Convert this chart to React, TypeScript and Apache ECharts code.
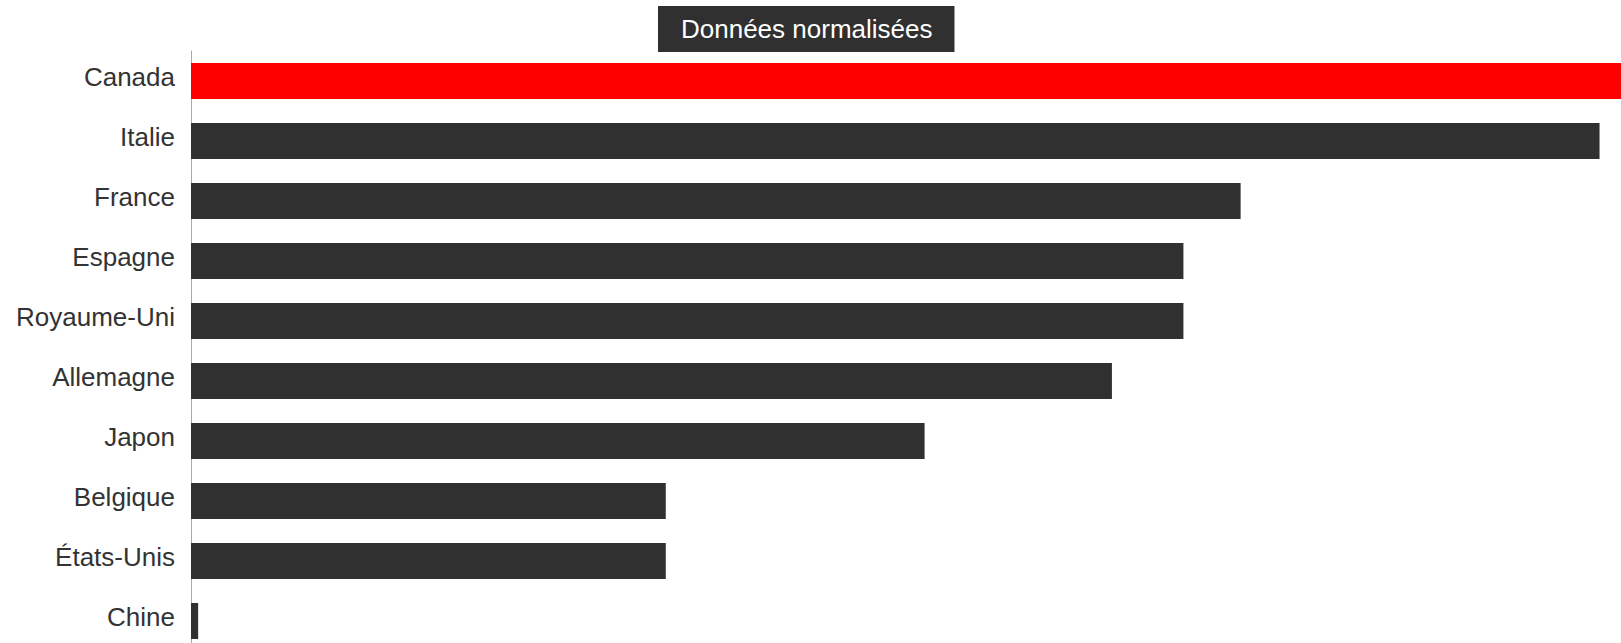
import React, { useEffect, useRef } from "react";
import * as echarts from "echarts";

const categories = ["Canada", "Italie", "France", "Espagne", "Royaume-Uni", "Allemagne", "Japon", "Belgique", "États-Unis", "Chine"];
const values = [1.0, 0.985, 0.734, 0.694, 0.694, 0.644, 0.513, 0.332, 0.332, 0.005];
const highlight = "Canada";
const titleText = "Données normalisées";

export default function App() {
  const ref = useRef<HTMLDivElement>(null);
  useEffect(() => {
    if (!ref.current) return;
    const chart = echarts.init(ref.current, null, { renderer: "svg" });
    const font = "'Liberation Sans', Arial, Helvetica, sans-serif";
    chart.setOption({
      animation: false,
      title: {
        text: titleText,
        left: 658,
        top: 6,
        backgroundColor: "#303030",
        padding: [10, 22, 10, 23],
        textStyle: { color: "#ffffff", fontSize: 26, fontWeight: "normal", fontFamily: font },
      },
      grid: { left: 191, right: 0, top: 51, height: 600, containLabel: false, outerBoundsMode: "none" },
      xAxis: {
        type: "value",
        min: 0,
        max: values[0],
        show: false,
      },
      yAxis: {
        type: "category",
        data: categories,
        inverse: true,
        axisLine: { show: true, lineStyle: { color: "#aaaaaa", width: 1 } },
        axisTick: { show: false },
        axisLabel: {
          margin: 16,
          formatter: (v: string) => "{l|" + v + "}",
          rich: {
            l: { color: "#333333", fontSize: 26, fontFamily: font, padding: [0, 0, 8, 0] },
          },
        },
      },
      series: [
        {
          type: "bar",
          data: values.map((v, i) => ({
            value: v,
            itemStyle: { color: categories[i] === highlight ? "#ff0000" : "#303030" },
          })),
          barWidth: 36,
          silent: true,
        },
      ],
    });
    return () => chart.dispose();
  }, []);
  return <div ref={ref} style={{ position: "absolute", left: 0, top: 0, width: 1621, height: 643 }} />;
}
